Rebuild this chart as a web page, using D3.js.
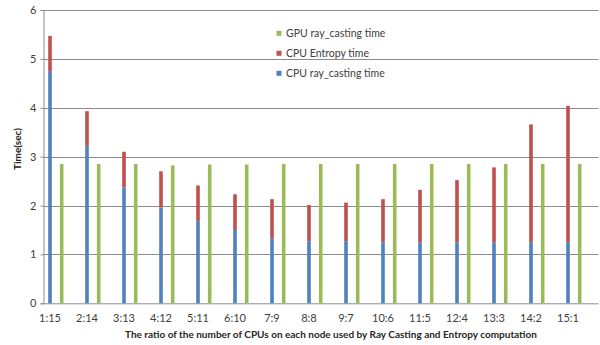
<!DOCTYPE html>
<html>
<head>
<meta charset="utf-8">
<script src="https://cdn.jsdelivr.net/npm/d3@7"></script>
<style>
  html, body { margin: 0; padding: 0; background: #fff; }
  svg { display: block; font-family: Lato, "Open Sans", sans-serif; }
</style>
</head>
<body>
<div id="chart"></div>
<script>
// Ratio categories and the three timing series.
const categories = ["1:15", "2:14", "3:13", "4:12", "5:11", "6:10", "7:9", "8:8",
    "9:7", "10:6", "11:5", "12:4", "13:3", "14:2", "15:1"];
const cpuRayCasting = [4.75, 3.22, 2.37, 1.96, 1.68, 1.50, 1.33, 1.27,
    1.27, 1.25, 1.25, 1.25, 1.25, 1.25, 1.25];
const cpuEntropy = [0.72, 0.71, 0.73, 0.74, 0.73, 0.73, 0.80, 0.74,
    0.79, 0.88, 1.07, 1.27, 1.53, 2.41, 2.79];
const gpuRayCasting = [2.85, 2.85, 2.85, 2.82, 2.84, 2.84, 2.85, 2.85,
    2.85, 2.85, 2.85, 2.85, 2.85, 2.85, 2.85];
const yTicks = [0, 1, 2, 3, 4, 5, 6];

const COLORS = { cpuRay: "#4f81bd", cpuEnt: "#c0504d", gpu: "#9bbb59" };

const WIDTH = 600;
const HEIGHT = 345;
const PLOT = { left: 43.5, right: 598.5, top: 10, bottom: 303.3 };
const BAR_W = 3.6;

const svg = d3.select("#chart").append("svg")
    .attr("width", WIDTH)
    .attr("height", HEIGHT);

const x = d3.scaleBand()
    .domain(categories)
    .range([PLOT.left, PLOT.right]);

const y = d3.scaleLinear()
    .domain([0, 6])
    .range([PLOT.bottom, PLOT.top]);

// Within each category: CPU stack sits left, GPU bar right.
const cpuX = (c) => x(c) + 6.5;
const gpuX = (c) => x(c) + 18.2;

// Gridlines + y axis.
const yAxis = d3.axisLeft(y)
    .tickValues(yTicks)
    .tickSize(3)
    .tickFormat(d3.format("d"));

svg.append("g")
    .attr("class", "grid")
    .selectAll("line")
    .data(yTicks.filter((t) => t > 0))
    .enter()
    .append("line")
    .attr("x1", PLOT.left)
    .attr("x2", PLOT.right)
    .attr("y1", (d) => Math.round(y(d)) + 0.5)
    .attr("y2", (d) => Math.round(y(d)) + 0.5)
    .attr("stroke", "#8c8c8c")
    .attr("stroke-width", 1);

const yG = svg.append("g")
    .attr("transform", `translate(${PLOT.left},0)`)
    .call(yAxis);
yG.select(".domain").attr("stroke", "#8c8c8c");
yG.selectAll(".tick line").attr("stroke", "#8c8c8c");
yG.selectAll(".tick text")
    .attr("x", -7)
    .attr("fill", "#404040")
    .attr("font-size", "11px")
    .attr("font-family", "Lato, sans-serif");

// Baseline.
svg.append("line")
    .attr("x1", PLOT.left)
    .attr("x2", PLOT.right)
    .attr("y1", y(0) + 0.5)
    .attr("y2", y(0) + 0.5)
    .attr("stroke", "#8c8c8c");

// Stacked CPU bars.
const stackRows = categories.map((c, i) => ({
    cat: c, ray: cpuRayCasting[i], ent: cpuEntropy[i],
}));
const stacked = d3.stack().keys(["ray", "ent"])(stackRows);
const stackColor = { ray: COLORS.cpuRay, ent: COLORS.cpuEnt };

svg.append("g")
    .selectAll("g")
    .data(stacked)
    .enter()
    .append("g")
    .attr("fill", (s) => stackColor[s.key])
    .selectAll("rect")
    .data((s) => s)
    .enter()
    .append("rect")
    .attr("x", (d) => cpuX(d.data.cat) - BAR_W / 2)
    .attr("width", BAR_W)
    .attr("y", (d) => y(d[1]))
    .attr("height", (d) => y(d[0]) - y(d[1]));

// GPU bars.
svg.append("g")
    .selectAll("rect")
    .data(categories.map((c, i) => ({ cat: c, v: gpuRayCasting[i] })))
    .enter()
    .append("rect")
    .attr("x", (d) => gpuX(d.cat) - BAR_W / 2)
    .attr("width", BAR_W)
    .attr("y", (d) => y(d.v))
    .attr("height", (d) => y(0) - y(d.v))
    .attr("fill", COLORS.gpu);

// Category labels — centred under the CPU stack, as in the original.
svg.append("g")
    .selectAll("text")
    .data(categories)
    .enter()
    .append("text")
    .attr("x", (d) => cpuX(d))
    .attr("y", 322)
    .attr("text-anchor", "middle")
    .attr("font-size", "11px")
    .attr("fill", "#404040")
    .text((d) => d);

// Axis titles.
svg.append("text")
    .attr("x", 331)
    .attr("y", 338)
    .attr("text-anchor", "middle")
    .attr("font-size", "10px")
    .attr("font-weight", "bold")
    .attr("fill", "#262626")
    .text("The ratio of the number of CPUs on each node used by Ray Casting and Entropy computation");

svg.append("text")
    .attr("transform", "translate(21,149) rotate(-90)")
    .attr("text-anchor", "middle")
    .attr("font-size", "10px")
    .attr("font-weight", "bold")
    .attr("fill", "#262626")
    .text("Time(sec)");

// Legend.
const legendItems = [
    { label: "GPU ray_casting time", color: COLORS.gpu },
    { label: "CPU Entropy time", color: COLORS.cpuEnt },
    { label: "CPU ray_casting time", color: COLORS.cpuRay },
];
const legend = svg.append("g")
    .selectAll("g")
    .data(legendItems)
    .enter()
    .append("g")
    .attr("transform", (d, i) => `translate(276.5, ${33.3 + i * 20})`);
legend.append("rect")
    .attr("x", 0)
    .attr("y", -2.5)
    .attr("width", 5)
    .attr("height", 5)
    .attr("fill", (d) => d.color);
legend.append("text")
    .attr("x", 9.5)
    .attr("y", 4)
    .attr("font-size", "10.5px")
    .attr("fill", "#404040")
    .text((d) => d.label);
</script>
</body>
</html>
